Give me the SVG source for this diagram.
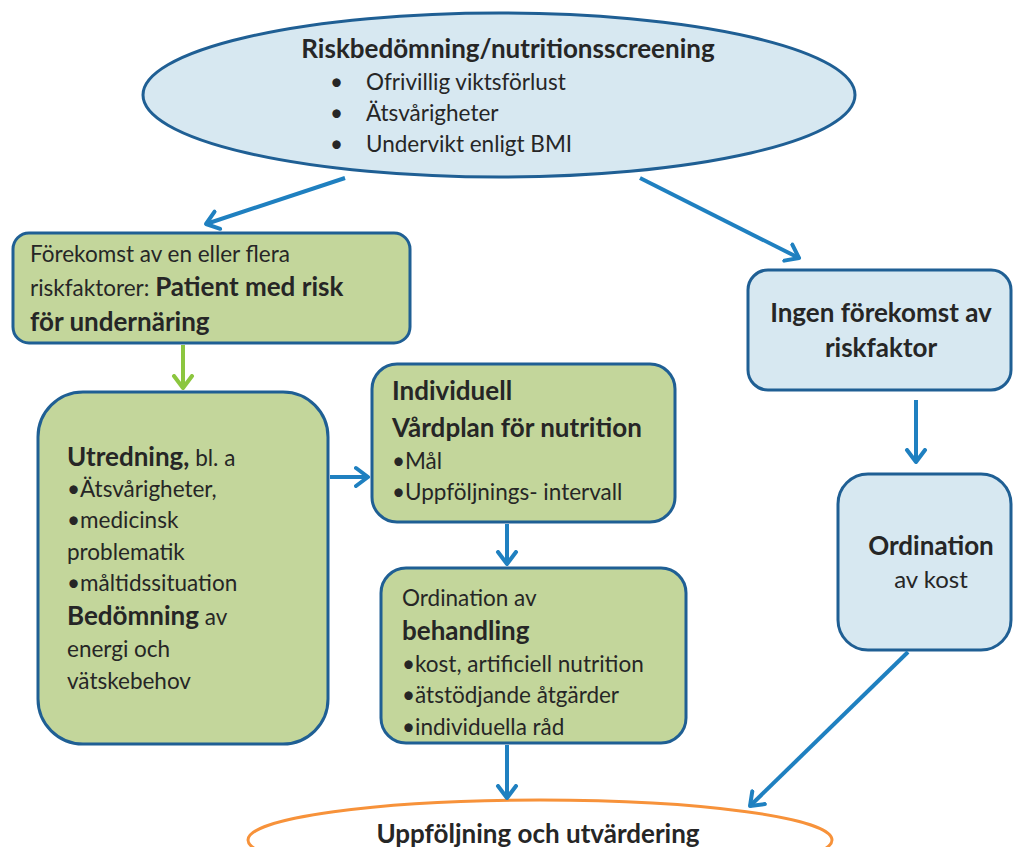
<svg xmlns="http://www.w3.org/2000/svg" width="1013" height="847" viewBox="0 0 1013 847">
<defs>
<marker id="ab" markerUnits="userSpaceOnUse" markerWidth="24" markerHeight="24" refX="14" refY="12" orient="auto" viewBox="0 0 24 24">
<path d="M2,3 L14,12 L2,21" fill="none" stroke="#1f80c0" stroke-width="4" stroke-linecap="round" stroke-linejoin="round"/>
</marker>
<marker id="ag" markerUnits="userSpaceOnUse" markerWidth="24" markerHeight="24" refX="14" refY="12" orient="auto" viewBox="0 0 24 24">
<path d="M2,3 L14,12 L2,21" fill="none" stroke="#8cc63f" stroke-width="4" stroke-linecap="round" stroke-linejoin="round"/>
</marker>
</defs>
<style>
text{font-family:Lato,"Liberation Sans",sans-serif;fill:#262626;font-size:22.5px}
.b{font-weight:bold;font-size:26px}
.g{fill:#c3d69b;stroke:#1f5f94;stroke-width:3}
.l{fill:#d7e8f1;stroke:#1f5f94;stroke-width:3}
.c{stroke:#1f80c0;stroke-width:4;fill:none;marker-end:url(#ab)}
.m{text-anchor:middle}
</style>
<rect width="1013" height="847" fill="#fff"/>
<g id="screening">
<ellipse cx="499" cy="95" rx="356" ry="82" class="l"/>
<text x="508" y="58" class="b m">Riskbedömning/nutritionsscreening</text>
<text x="330" y="90">•</text><text x="366" y="90">Ofrivillig viktsförlust</text>
<text x="330" y="121">•</text><text x="366" y="121">Ätsvårigheter</text>
<text x="330" y="152">•</text><text x="366" y="152">Undervikt enligt BMI</text>
</g>
<g id="risk">
<rect x="13" y="233" width="397" height="110" rx="16" class="g"/>
<text x="30" y="262">Förekomst av en eller flera</text>
<text x="30" y="296">riskfaktorer: <tspan class="b">Patient med risk</tspan></text>
<text x="30" y="331" class="b">för undernäring</text>
</g>
<g id="utredning">
<rect x="38" y="392" width="290" height="352" rx="45" class="g"/>
<text x="67" y="466"><tspan class="b">Utredning,</tspan> bl. a</text>
<text x="67" y="497">•Ätsvårigheter,</text>
<text x="67" y="528">•medicinsk</text>
<text x="67" y="560">problematik</text>
<text x="67" y="591">•måltidssituation</text>
<text x="67" y="625"><tspan class="b">Bedömning</tspan> av</text>
<text x="67" y="657">energi och</text>
<text x="67" y="689">vätskebehov</text>
</g>
<g id="vardplan">
<rect x="372" y="364" width="303" height="158" rx="25" class="g"/>
<text x="392" y="400" class="b">Individuell</text>
<text x="392" y="437" class="b">Vårdplan för nutrition</text>
<text x="392" y="469">•Mål</text>
<text x="392" y="500">•Uppföljnings- intervall</text>
</g>
<g id="behandling">
<rect x="381" y="568" width="305" height="175" rx="25" class="g"/>
<text x="402" y="606">Ordination av</text>
<text x="402" y="640" class="b">behandling</text>
<text x="402" y="672">•kost, artificiell nutrition</text>
<text x="402" y="703">•ätstödjande åtgärder</text>
<text x="402" y="735">•individuella råd</text>
</g>
<g id="ingen">
<rect x="748" y="270" width="263" height="120" rx="20" class="l"/>
<text x="881" y="322" class="b m">Ingen förekomst av</text>
<text x="881" y="357" class="b m">riskfaktor</text>
</g>
<g id="kost">
<rect x="838" y="474" width="173" height="176" rx="30" class="l"/>
<text x="931" y="555" class="b m">Ordination</text>
<text x="931" y="588" class="m" style="font-size:24px">av kost</text>
</g>
<g id="uppfoljning">
<ellipse cx="540" cy="840" rx="292" ry="40" fill="#fff" stroke="#f7923a" stroke-width="3"/>
<text x="538" y="843" class="b m">Uppföljning och utvärdering</text>
</g>
<g id="connectors">
<line x1="345" y1="178" x2="206" y2="224" class="c"/>
<line x1="640" y1="178" x2="799" y2="258" class="c"/>
<line x1="183" y1="345" x2="183" y2="388" stroke="#8cc63f" stroke-width="4" marker-end="url(#ag)"/>
<line x1="330" y1="477" x2="368" y2="477" class="c"/>
<line x1="507" y1="524" x2="507" y2="564" class="c"/>
<line x1="507" y1="745" x2="507" y2="798" class="c"/>
<line x1="916" y1="400" x2="916" y2="462" class="c"/>
<line x1="908" y1="652" x2="750" y2="806" class="c"/>
</g>
</svg>
